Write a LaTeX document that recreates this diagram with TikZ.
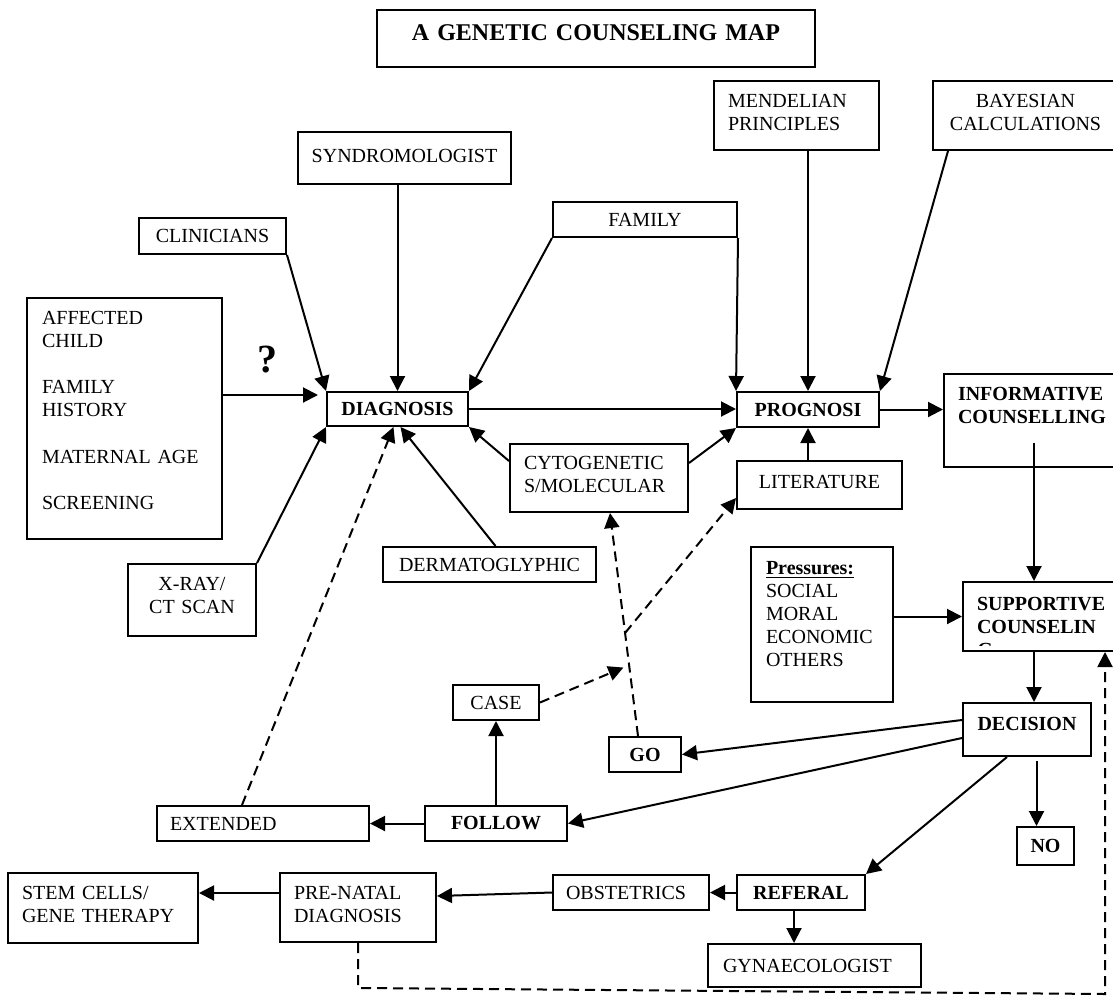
\documentclass[tikz,border=0pt]{standalone}
\usepackage{fontspec}
\setmainfont{Liberation Serif}
\usetikzlibrary{arrows.meta,calc}
\newcommand{\mapsize}{\fontsize{10}{11.6}\selectfont}
\newcommand{\titlesize}{\fontsize{12}{14}\selectfont}
\tikzset{
  box/.style={draw, line width=1pt, inner sep=0pt, font=\mapsize},
  bbox/.style={box, font=\mapsize\bfseries},
  arr/.style={line width=1pt, -{Triangle[length=7.5pt,width=7.5pt]}},
  darr/.style={arr, dash pattern=on 5pt off 3pt}
}
\begin{document}
\begin{tikzpicture}[x=0.5pt,y=-0.5pt]
\path[use as bounding box, fill=white] (0,0) rectangle (1113,996);

\node[box, font=\titlesize\bfseries, text width=219pt, align=center, text height=15pt, text depth=13.5pt] (title) at (596,38.5) {A GENETIC COUNSELING MAP};
\node[box, inner xsep=7pt, text width=68.5pt, align=left, text height=13pt, text depth=21.5pt] (mendel) at (796.5,115.5) {MENDELIAN\\PRINCIPLES};
\node[box, text width=92.5pt, align=center, text height=13pt, text depth=21.5pt] (bayes) at (1025.5,115.5) {BAYESIAN\\CALCULATIONS};
\node[box, text width=106.5pt, align=center, text height=15pt, text depth=11pt] (synd) at (404.5,158) {SYNDROMOLOGIST};
\node[box, minimum width=73.5pt, minimum height=18pt] (clin) at (212.5,236) {CLINICIANS};
\node[box, minimum width=92pt, minimum height=17.5pt] (family) at (645,219.5) {FAMILY};
\node[box, inner xsep=7.5pt, text width=82.5pt, align=left, text height=13pt, text depth=107.5pt] (aff) at (124.5,418.5) {AFFECTED\\CHILD\\[11.6pt]FAMILY\\HISTORY\\[11.6pt]MATERNAL~AGE\\[11.6pt]SCREENING};
\node[font=\fontsize{20}{22}\selectfont\bfseries, inner sep=0pt] (qm) at (267,360) {?};
\node[bbox, minimum width=70.5pt, minimum height=17pt] (diag) at (397.5,409) {DIAGNOSIS};
\node[bbox, minimum width=71pt, minimum height=17.5pt] (prog) at (808,409.5) {PROGNOSI};
\node[bbox, inner xsep=7pt, text width=80pt, align=left, text height=13pt, text depth=33.5pt] (info) at (1038,420.5) {INFORMATIVE\\COUNSELLING};
\node[box, inner xsep=7pt, text width=75pt, align=left, text height=12.5pt, text depth=21.5pt] (cyto) at (599,478) {CYTOGENETIC\\S/MOLECULAR};
\node[box, text width=82.5pt, align=center, text height=13.5pt, text depth=10.5pt] (lit) at (819.5,485) {LITERATURE};
\node[box, minimum width=106.5pt, minimum height=17.5pt] (derm) at (489.5,564.5) {DERMATOGLYPHIC};
\node[box, text width=64pt, align=center, text height=13pt, text depth=23pt] (xray) at (192,600) {X-RAY/\\CT SCAN};
\node[box, inner xsep=7.5pt, text width=56pt, align=left, text height=13.5pt, text depth=64pt] (press) at (822,624.5) {\underline{\textbf{Pressures:}}\\SOCIAL\\MORAL\\ECONOMIC\\OTHERS};
\node[bbox, inner xsep=7pt, text width=72pt, align=left, text height=14pt, text depth=20.5pt] (supp) at (1049,616.5) {SUPPORTIVE\\COUNSELIN};
\begin{scope}
\clip (963,582) rectangle (1113,645);
\node[font=\mapsize\bfseries, anchor=base west, inner sep=0pt] (suppG) at (977,656) {G};
\end{scope}
\node[bbox, text width=64pt, align=center, text height=13.5pt, text depth=13pt] (dec) at (1027,729.5) {DECISION};
\node[bbox, minimum width=28.5pt, minimum height=19pt] (no) at (1045.5,846) {NO};
\node[bbox, minimum width=36pt, minimum height=17.5pt] (go) at (645,754.5) {GO};
\node[box, minimum width=43pt, minimum height=17.5pt] (case) at (496,702.5) {CASE};
\node[bbox, minimum width=71pt, minimum height=17.5pt] (follow) at (496,823.5) {FOLLOW};
\node[box, inner xsep=6.5pt, text width=93pt, align=left, minimum height=17.5pt] (ext) at (263,823.5) {EXTENDED};
\node[bbox, minimum width=64pt, minimum height=17.5pt] (refer) at (801,892.5) {REFERAL};
\node[box, inner xsep=6.5pt, text width=65pt, align=left, minimum height=17.5pt] (obst) at (631,892.5) {OBSTETRICS};
\node[box, inner xsep=7.5pt, text width=91.5pt, align=left, minimum height=21.5pt] (gyn) at (814.5,965.5) {GYNAECOLOGIST};
\node[box, inner xsep=7pt, text width=64pt, align=left, text height=13pt, text depth=21.5pt] (prenat) at (358,907.5) {PRE-NATAL\\DIAGNOSIS};
\node[box, inner xsep=7pt, text width=81pt, align=left, text height=13pt, text depth=22pt] (stem) at (103,908) {STEM CELLS/\\GENE THERAPY};

\coordinate (infoS) at (1034,443);
\coordinate (goT) at ($(go.north)+(-7,0)$);
\coordinate (cytoB) at ($(cyto.south)+(11,0)$);
\coordinate (j1) at ($(goT)!0.307!(cytoB)+(-6,0)$);
\coordinate (j2) at ($(goT)!0.462!(cytoB)$);
\coordinate (dashL) at ($(prenat.south)+(0,45)$);
\coordinate (dashR) at (1105,994);

\draw[arr] ($(aff.east |- diag.north)+(0,4)$) -- ($(diag.north west)+(-8,4)$);
\draw[arr] (clin.south east) -- (diag.north west);
\draw[arr] (synd.south -| diag.north) -- (diag.north);
\draw[arr] (family.south west) -- (diag.north east);
\draw[arr] (family.south east) -- (prog.north west);
\draw[arr] (prog.north |- mendel.south) -- (prog.north);
\draw[arr] ($(bayes.south west)+(16,0)$) -- (prog.north east);
\draw[arr] (xray.north east) -- (diag.south west);
\draw[arr] ($(derm.north)+(6,0)$) -- ($(diag.south)+(3,0)$);
\draw[darr] ($(ext.north)+(-21,0)$) -- ($(diag.south)+(-4,0)$);
\draw[arr] ($(cyto.west)+(0,-17)$) -- (diag.south east);
\draw[arr] ($(cyto.east)+(0,-15)$) -- (prog.south west);
\draw[arr] (diag.east) -- (diag.east -| prog.west);
\draw[arr] (prog.south |- lit.north) -- (prog.south);
\draw[arr] (prog.east) -- (prog.east -| info.west);
\draw[arr] (infoS) -- (infoS |- supp.north);
\draw[arr] (press.east |- supp.west) -- (supp.west);
\draw[arr] (infoS |- supp.south) -- (infoS |- dec.north);
\draw[arr] ($(dec.west)+(0,-9.5)$) -- (go.east);
\draw[arr] ($(dec.west)+(0,8.5)$) -- (follow.east);
\draw[arr] ($(dec.south)+(-20,0)$) -- (refer.north east);
\draw[arr] ($(dec.south -| no.north)+(-9,4)$) -- ($(no.north)+(-9,0)$);
\draw[arr] (follow.north) -- (case.south);
\draw[arr] (follow.west) -- (ext.east);
\draw[darr] (goT) -- (cytoB);
\draw[darr] (case.east) -- (j1);
\draw[darr] (j2) -- ($(lit.south west)+(0,-12)$);
\draw[arr] (refer.west) -- (obst.east);
\draw[arr] ($(refer.south)+(-7,0)$) -- ($(refer.south |- gyn.north)+(-7,0)$);
\draw[arr] (obst.west) -- ($(prenat.east)+(0,-11.5)$);
\draw[arr] ($(stem.east -| prenat.west)+(0,-15)$) -- ($(stem.east)+(0,-15)$);
\draw[darr] (prenat.south) -- (dashL) -- (dashR) -- (dashR |- supp.south);
\end{tikzpicture}
\end{document}
